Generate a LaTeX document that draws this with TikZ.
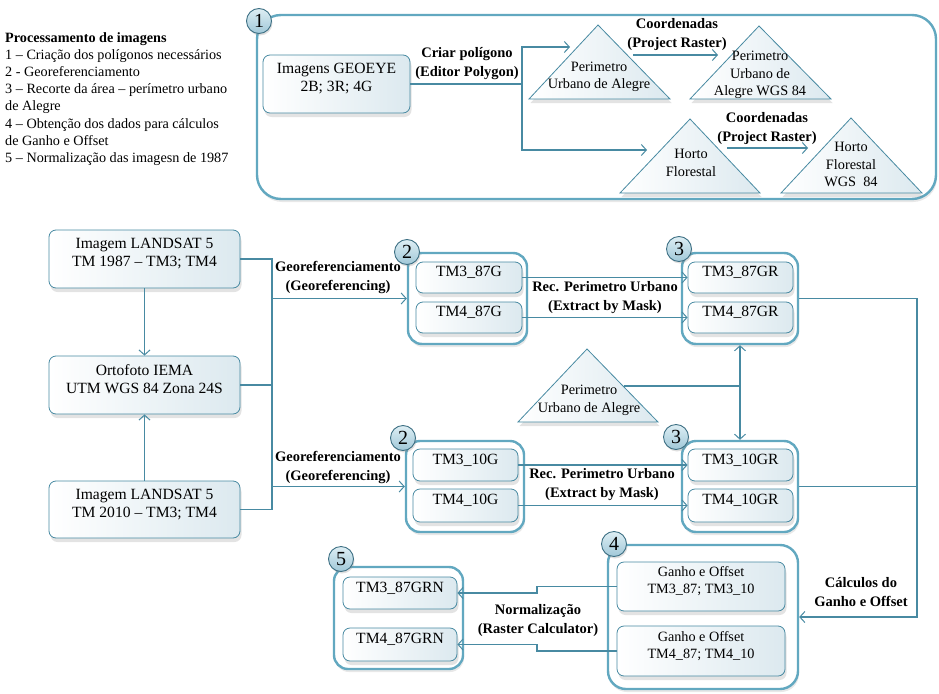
\documentclass[tikz,border=0pt]{standalone}
\usepackage{fontspec}
\setmainfont{Liberation Serif}
\usetikzlibrary{arrows.meta,shadows,fit,calc}
\definecolor{lc}{RGB}{72,138,162}
\definecolor{gc}{RGB}{98,168,192}
\definecolor{bfill}{RGB}{220,233,239}
\definecolor{bdgtop}{RGB}{222,238,244}
\definecolor{bdgbot}{RGB}{160,200,216}
\definecolor{bdgd}{RGB}{62,112,132}
\begin{document}
\begin{tikzpicture}[x=1pt,y=-1pt,
  lnk/.style={draw=lc, line width=1.1pt},
  arr/.style={draw=lc, line width=1.1pt, -{Straight Barb[length=5pt,width=11pt,line width=1pt]}},
  grp/.style={draw=gc, line width=2.4pt, fill=white, rounded corners=14pt, inner sep=0pt,
    drop shadow={shadow xshift=1pt, shadow yshift=-3pt, opacity=0.18}},
  bx/.style={draw=lc, line width=0.8pt, rounded corners=7pt, left color=white, right color=bfill,
    inner sep=0pt, align=center, font=\fontsize{15.6}{18}\selectfont,
    drop shadow={shadow xshift=1.5pt, shadow yshift=-4pt, opacity=0.22}},
  tri/.style={draw=lc, line width=0.8pt, left color=white, right color=bfill,
    drop shadow={shadow xshift=1.5pt, shadow yshift=-4pt, opacity=0.22}},
  ttxt/.style={align=center, inner sep=0pt, font=\fontsize{14.3}{17.5}\selectfont},
  lbl/.style={align=center, inner sep=0pt, font=\bfseries\fontsize{14.5}{19}\selectfont},
  badge/.style={circle, draw=bdgd, line width=0.9pt, top color=bdgtop, bottom color=bdgbot,
    minimum size=25pt, inner sep=0pt, font=\fontsize{20}{20}\selectfont,
    drop shadow={shadow xshift=1pt, shadow yshift=-2pt, opacity=0.25}}
]
\useasboundingbox (0,0) rectangle (939,693);

% ---------- legend ----------
\node[anchor=north west, align=left, inner sep=0pt, font=\fontsize{14.2}{17.1}\selectfont] (legend) at (5,32.5)
 {\textbf{Processamento de imagens}\\
  1 – Criação dos polígonos necessários\\
  2 - Georeferenciamento\\
  3 – Recorte da área – perímetro urbano\\
  de Alegre\\
  4 – Obtenção dos dados para cálculos\\
  de Ganho e Offset\\
  5 – Normalização das imagesn de 1987};

% ---------- group 1 ----------
\node[grp, rounded corners=24pt, fit={(257,15) (936,199)}] (g1) {};
\node[bx, fit={(263,55) (410,113)}] (geo) {Imagens GEOEYE\\2B; 3R; 4G};

\path[tri] (529,99) coordinate (t1l) -- (598,25) coordinate (t1a) -- (670,99) coordinate (t1r) -- cycle;
\path[tri] (690,99) coordinate (t2l) -- (759,26) coordinate (t2a) -- (831,99) coordinate (t2r) -- cycle;
\path[tri] (620,193) coordinate (t3l) -- (690,119) coordinate (t3a) -- (760,193) coordinate (t3r) -- cycle;
\path[tri] (781,193) coordinate (t4l) -- (851,118) coordinate (t4a) -- (922,193) coordinate (t4r) -- cycle;
\node[ttxt] (t1txt) at (599,77) {Perimetro\\Urbano de Alegre};
\node[ttxt] (t2txt) at (760,75) {Perimetro\\Urbano de\\Alegre WGS 84};
\node[ttxt] (t3txt) at (691,163) {Horto\\Florestal};
\node[ttxt] (t4txt) at (851,164.5) {Horto\\Florestal\\WGS~~84};

\coordinate (j1) at (522,84);
\coordinate (j1t) at (522,47);
\coordinate (j1b) at (522,150);
\coordinate (t1in) at (570,47);
\coordinate (t3in) at (647,150);
\coordinate (t1out) at (633,55);
\coordinate (t2in) at (718,55);
\coordinate (t3out) at (727,148);
\coordinate (t4in) at (808,148);
\draw[lnk] (geo.east) -- (j1);
\draw[arr] (j1) -- (j1t) -- (t1in);
\draw[arr] (j1) -- (j1b) -- (t3in);
\draw[arr] (t1out) -- (t2in);
\draw[arr] (t3out) -- (t4in);
\node[lbl] (lcriar) at (467,64) {Criar polígono\\(Editor Polygon)};
\node[lbl] (lcoord1) at (677,34.5) {Coordenadas\\(Project Raster)};
\node[lbl] (lcoord2) at (767,128.5) {Coordenadas\\(Project Raster)};
\node[badge] (b1) at (259,21) {1};

% ---------- left column ----------
\node[bx, fit={(49,230) (240,288)}] (L1) {Imagem LANDSAT 5\\TM 1987 – TM3; TM4};
\node[bx, fit={(49,356) (240,414)}] (L2) {Ortofoto IEMA\\UTM WGS 84 Zona 24S};
\node[bx, fit={(49,481) (240,538)}] (L3) {Imagem LANDSAT 5\\TM 2010 – TM3; TM4};
\draw[arr] (L1.south) -- (L2.north);
\draw[arr] (L3.north) -- (L2.south);

% ---------- group 2 ----------
\node[grp, fit={(408,253) (527,344)}] (g2a) {};
\node[bx, fit={(416,262) (522,293)}] (a1) {TM3\_87G};
\node[bx, fit={(416,302) (522,333)}] (a2) {TM4\_87G};
\node[grp, fit={(406,441) (524,532)}] (g2b) {};
\node[bx, fit={(413,449) (518,481)}] (b1x) {TM3\_10G};
\node[bx, fit={(413,489) (518,522)}] (b2x) {TM4\_10G};

% ---------- group 3 ----------
\node[grp, fit={(682,253) (798,344)}] (g3a) {};
\node[bx, fit={(688,262) (793,293)}] (c1) {TM3\_87GR};
\node[bx, fit={(688,302) (793,333)}] (c2) {TM4\_87GR};
\node[grp, fit={(682,441) (798,532)}] (g3b) {};
\node[bx, fit={(688,449) (793,481)}] (d1) {TM3\_10GR};
\node[bx, fit={(688,489) (793,522)}] (d2) {TM4\_10GR};

% georeferencing connectors
\coordinate (jt) at (272,298.5);
\coordinate (jb) at (272,486.5);
\draw[lnk] (L1.east) -| (jt) -- (jb) |- (L3.east);
\draw[lnk] (L2.east) -- (L2.east -| jt);
\draw[arr] (jt) -- (g2a.west);
\draw[arr] (jb) -- (g2b.west);
\node[lbl] (lgeo1) at (338,277.5) {Georeferenciamento\\(Georeferencing)};
\node[lbl] (lgeo2) at (338,467.5) {Georeferenciamento\\(Georeferencing)};

% extract by mask
\draw[arr] (a1.east) -- (c1.west);
\draw[arr] (a2.east) -- (c2.west);
\draw[arr] (b1x.east) -- (d1.west);
\draw[arr] (b2x.east) -- (d2.west);
\node[lbl] (lrec1) at (605,297.5) {Rec. Perimetro Urbano\\(Extract by Mask)};
\node[lbl] (lrec2) at (602,484.5) {Rec. Perimetro Urbano\\(Extract by Mask)};

% middle triangle
\path[tri] (518,422) coordinate (t5l) -- (587,349) coordinate (t5a) -- (658,422) coordinate (t5r) -- cycle;
\node[ttxt] (t5txt) at (589,400.5) {Perimetro\\Urbano de Alegre};
\coordinate (t5out) at (624,386);
\coordinate (jm) at (740,386);
\draw[lnk] (t5out) -- (jm);
\draw[arr] (jm) -- (g3a.south);
\draw[arr] (jm) -- (g3b.north);

% ---------- group 4 ----------
\node[grp, rounded corners=18pt, fit={(608,545) (798,689)}] (g4) {};
\node[bx, font=\fontsize{14.2}{17}\selectfont, fit={(617,562) (785,611)}] (e1) {Ganho e Offset\\TM3\_87; TM3\_10};
\node[bx, font=\fontsize{14.2}{17}\selectfont, fit={(617,626) (785,676)}] (e2) {Ganho e Offset\\TM4\_87; TM4\_10};
\coordinate (jr) at (917,617);
\draw[arr] (g3a.east) -| (jr) -- (g4.east);
\draw[lnk] (g3b.east) -- (g3b.east -| jr);
\node[lbl] (lcalc) at (861,592.5) {Cálculos do\\Ganho e Offset};

% ---------- group 5 ----------
\node[grp, fit={(334,567) (463,669)}] (g5) {};
\node[bx, fit={(343,577) (457,609)}] (f1) {TM3\_87GRN};
\node[bx, fit={(343,628) (457,661)}] (f2) {TM4\_87GRN};
\coordinate (n1) at (537,593);
\coordinate (n2) at (537,644.5);
\draw[arr] (e1.west) -| (n1) -- (f1.east);
\draw[arr] (e2.west) -| (n2) -- (f2.east);
\node[lbl] (lnorm) at (538,620.5) {Normalização\\(Raster Calculator)};

% ---------- badges ----------
\node[badge] (b2a) at (407,252) {2};
\node[badge] (b2b) at (403,438) {2};
\node[badge] (b3a) at (679,249) {3};
\node[badge] (b3b) at (676,437) {3};
\node[badge] (b4) at (614,544) {4};
\node[badge] (b5) at (341,559) {5};
\end{tikzpicture}
\end{document}
